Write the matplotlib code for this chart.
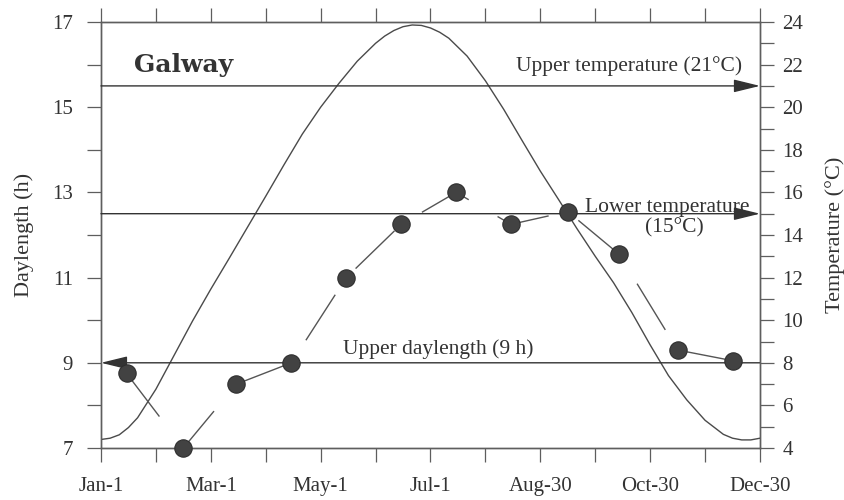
import matplotlib
matplotlib.use('Agg')
import matplotlib.pyplot as plt
from matplotlib.ticker import FixedLocator, MultipleLocator

plt.rcParams['font.family'] = ['Liberation Serif', 'DejaVu Serif']

############################################################
# Data
############################################################

# daylength at Galway (day 0 = Jan-1)
curve_days = [0, 5, 10, 15, 20, 30, 40, 50, 60, 70, 80, 90, 100, 110,
              120, 130, 140, 150, 155, 160, 165, 170, 175, 180, 185,
              190, 200, 210, 220, 230, 240, 250, 260, 270, 280, 290,
              300, 310, 320, 330, 340, 345, 350, 355, 360]
daylength = [7.20, 7.23, 7.31, 7.48, 7.71, 8.38, 9.18, 9.98, 10.73,
             11.45, 12.18, 12.91, 13.65, 14.37, 15.00, 15.56, 16.08,
             16.50, 16.67, 16.80, 16.89, 16.93, 16.92, 16.86, 16.76,
             16.62, 16.20, 15.62, 14.95, 14.22, 13.50, 12.83, 12.15,
             11.50, 10.88, 10.18, 9.42, 8.70, 8.13, 7.65, 7.32, 7.23,
             7.19, 7.19, 7.23]

# mean monthly temperature
temp_days = [14, 45, 74, 104, 134, 164, 194, 224, 255, 283, 315, 345]
temps = [7.5, 4.0, 7.0, 8.0, 12.0, 14.5, 16.0, 14.5, 15.1, 13.1, 8.6, 8.1]

tick_days = [0, 60, 120, 180, 240, 300, 360]
tick_labels = ['Jan-1', 'Mar-1', 'May-1', 'Jul-1', 'Aug-30', 'Oct-30', 'Dec-30']

upper_temp = 21
lower_temp = 15
upper_daylength = 9

############################################################
# Plot
############################################################

line_col = '#4a4a4a'
axis_col = '#5e5e5e'
text_col = '#333333'

fig = plt.figure(figsize=(8.45, 5.0), dpi=100)
ax1 = fig.add_axes([0.1195, 0.104, 0.7799, 0.852])
ax2 = ax1.twinx()

ax1.set_xlim(0, 360)
ax1.set_ylim(7, 17)
ax2.set_ylim(4, 24)

ax1.plot(curve_days, daylength, color=line_col, lw=1.0, zorder=3)

ax2.plot(temp_days, temps, color='#555555', lw=1.0,
         linestyle=(0, (39, 24)), zorder=3)
ax2.plot(temp_days, temps, 'o', ms=12.5, mfc='#424242', mec='#2e2e2e',
         mew=0.8, zorder=4, clip_on=False)

arrow = dict(arrowstyle='-|>,head_length=0.9,head_width=0.22',
             mutation_scale=18, color='#333333', lw=1.0,
             shrinkA=0, shrinkB=0)
ax2.annotate('', xy=(360, upper_temp), xytext=(0, upper_temp),
             arrowprops=arrow, annotation_clip=False)
ax2.annotate('', xy=(360, lower_temp), xytext=(0, lower_temp),
             arrowprops=arrow, annotation_clip=False)
ax1.annotate('', xy=(0, upper_daylength), xytext=(360, upper_daylength),
             arrowprops=arrow, annotation_clip=False)

ax1.text(18, 16.0, 'Galway', family='DejaVu Serif', fontweight='bold',
         fontsize=18, color=text_col, ha='left', va='center')
ax2.text(350.5, 21.95, 'Upper temperature (21°C)', fontsize=15.5,
         color=text_col, ha='right', va='center')
ax2.text(309.5, 15.08, 'Lower temperature', fontsize=15.5,
         color=text_col, ha='center', va='baseline')
ax2.text(313.5, 14.33, '(15°C)', fontsize=15.5,
         color=text_col, ha='center', va='center')
ax1.text(184, 9.32, 'Upper daylength (9 h)', fontsize=15.5,
         color=text_col, ha='center', va='center')

# axes, ticks and labels
ax1.xaxis.set_major_locator(FixedLocator(tick_days))
ax1.xaxis.set_minor_locator(MultipleLocator(30))
ax1.set_xticklabels(tick_labels)
ax1.yaxis.set_major_locator(MultipleLocator(2))
ax1.yaxis.set_minor_locator(MultipleLocator(1))
ax1.set_yticks([7, 9, 11, 13, 15, 17])
ax2.yaxis.set_major_locator(MultipleLocator(2))
ax2.yaxis.set_minor_locator(MultipleLocator(1))

for ax in (ax1, ax2):
    for s in ax.spines.values():
        s.set_color(axis_col)
        s.set_linewidth(1.0)
    ax.tick_params(which='both', direction='out', length=10, width=0.9,
                   color=axis_col, labelsize=15, labelcolor=text_col)

ax1.tick_params(axis='x', which='both', top=True, pad=11)
ax1.tick_params(axis='y', pad=10)
ax2.tick_params(axis='y', pad=6)

ax1.set_ylabel('Daylength (h)', fontsize=16, color=text_col, labelpad=13)
ax2.set_ylabel('Temperature (°C)', fontsize=16, color=text_col, labelpad=16)

fig.savefig('out.png', dpi=100)
